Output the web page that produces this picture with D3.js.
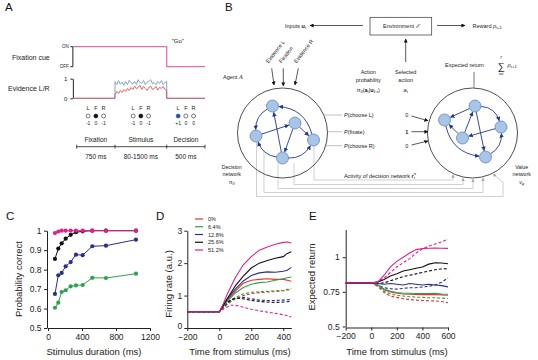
<!DOCTYPE html>
<html>
<head>
<meta charset="utf-8">
<script src="https://cdn.jsdelivr.net/npm/d3@7"></script>
<style>
  body { margin: 0; background: #fff; }
  svg { font-family: "Liberation Sans", Arial, sans-serif; }
</style>
</head>
<body>
<svg id="fig" width="538" height="360"></svg>
<script>
// ---------- data ----------
// panel A: evidence traces during the stimulus period
const evidenceL = [0.85, 0.7, 0.9, 0.72, 0.82, 0.66, 0.86, 0.7, 0.92, 0.8, 0.74, 0.86, 0.7, 0.95, 0.8, 0.76, 0.9, 0.7, 0.82, 0.86, 0.95, 0.74, 0.8, 0.7, 0.86, 0.76, 0.9, 0.7, 0.8, 0.86]
const evidenceR = [0.2, 0.35, 0.25, 0.4, 0.3, 0.45, 0.35, 0.5, 0.4, 0.55, 0.45, 0.62, 0.5, 0.55, 0.66, 0.45, 0.6, 0.5, 0.4, 0.56, 0.62, 0.45, 0.5, 0.6, 0.42, 0.56, 0.5, 0.6, 0.45, 0.4]

// panel C: psychometric curves vs stimulus duration
const durations = [82, 121, 161, 208, 267, 329, 408, 521, 682, 1035]
const pcGreen = [0.604, 0.630, 0.685, 0.694, 0.714, 0.719, 0.721, 0.758, 0.757, 0.779]
const pcNavy = [0.675, 0.771, 0.783, 0.817, 0.839, 0.877, 0.874, 0.920, 0.923, 0.954]
const pcBlack = [0.855, 0.908, 0.935, 0.959, 0.979, 0.992, 0.997, 1, 1, 1]
const pcMagenta = [0.988, 0.996, 1, 1, 1, 1, 1, 1, 1, 1]

// panel D: firing rate (solid = preferred, dashed = non-preferred)
const dTimes = [-200, -100, 0, 25, 50, 75, 100, 150, 200, 250, 300, 350, 400, 425, 450]
const frRed = [0.5, 0.5, 0.5, 0.68, 0.85, 1.0, 1.14, 1.38, 1.47, 1.5, 1.52, 1.5, 1.5, 1.47, 1.44]
const frGreen = [0.5, 0.5, 0.5, 0.66, 0.82, 0.95, 1.08, 1.25, 1.35, 1.4, 1.42, 1.47, 1.52, 1.55, 1.57]
const frNavy = [0.5, 0.5, 0.5, 0.7, 0.9, 1.05, 1.2, 1.45, 1.62, 1.7, 1.73, 1.72, 1.75, 1.78, 1.87]
const frBlack = [0.5, 0.5, 0.5, 0.7, 0.9, 1.1, 1.3, 1.6, 1.85, 2.0, 2.08, 2.15, 2.2, 2.3, 2.35]
const frMagenta = [0.5, 0.5, 0.5, 0.75, 1.05, 1.3, 1.55, 1.95, 2.2, 2.4, 2.5, 2.58, 2.64, 2.65, 2.62]
const frRedD = [0.5, 0.5, 0.5, 0.62, 0.73, 0.82, 0.9, 1.0, 1.06, 1.09, 1.11, 1.12, 1.15, 1.17, 1.19]
const frGreenD = [0.5, 0.5, 0.5, 0.62, 0.75, 0.85, 0.94, 1.05, 1.1, 1.12, 1.13, 1.15, 1.16, 1.19, 1.21]
const frNavyD = [0.5, 0.5, 0.5, 0.65, 0.78, 0.86, 0.9, 0.95, 0.9, 0.86, 0.85, 0.85, 0.86, 0.87, 0.88]
const frBlackD = [0.5, 0.5, 0.5, 0.65, 0.78, 0.88, 0.92, 0.9, 0.85, 0.82, 0.8, 0.79, 0.8, 0.81, 0.82]
const frMagentaD = [0.5, 0.5, 0.5, 0.58, 0.65, 0.7, 0.7, 0.64, 0.58, 0.53, 0.49, 0.45, 0.41, 0.38, 0.34]

// panel E: expected return
const eTimes = [-200, -100, 0, 50, 100, 150, 200, 250, 300, 350, 400, 450, 500, 550, 600]
const erRed = [0.815, 0.815, 0.815, 0.80, 0.765, 0.75, 0.74, 0.735, 0.733, 0.732, 0.73, 0.73, 0.73, 0.728, 0.725]
const erGreen = [0.815, 0.815, 0.815, 0.80, 0.77, 0.755, 0.745, 0.74, 0.74, 0.738, 0.738, 0.738, 0.739, 0.735, 0.733]
const erNavy = [0.815, 0.815, 0.815, 0.81, 0.805, 0.81, 0.805, 0.80, 0.81, 0.805, 0.80, 0.805, 0.80, 0.795, 0.786]
const erBlack = [0.815, 0.815, 0.815, 0.82, 0.84, 0.865, 0.88, 0.9, 0.91, 0.92, 0.93, 0.95, 0.96, 0.958, 0.953]
const erMagenta = [0.815, 0.815, 0.815, 0.82, 0.87, 0.93, 0.97, 1.0, 1.03, 1.055, 1.062, 1.065, 1.066, 1.065, 1.064]
const erRedD = [0.815, 0.815, 0.815, 0.79, 0.745, 0.72, 0.71, 0.70, 0.695, 0.69, 0.688, 0.686, 0.685, 0.68, 0.671]
const erGreenD = [0.815, 0.815, 0.815, 0.795, 0.755, 0.735, 0.725, 0.72, 0.715, 0.712, 0.71, 0.708, 0.707, 0.705, 0.702]
const erNavyD = [0.815, 0.815, 0.815, 0.80, 0.78, 0.772, 0.77, 0.775, 0.78, 0.78, 0.785, 0.79, 0.80, 0.82, 0.85]
const erBlackD = [0.815, 0.815, 0.815, 0.81, 0.815, 0.83, 0.845, 0.86, 0.87, 0.88, 0.89, 0.9, 0.91, 0.915, 0.917]
const erMagentaD = [0.815, 0.815, 0.815, 0.82, 0.85, 0.89, 0.93, 0.96, 0.99, 1.03, 1.06, 1.08, 1.095, 1.11, 1.13]

const coherences = ['0%', '6.4%', '12.8%', '25.6%', '51.2%']

// ---------- style ----------
const RED = '#e8322f', GREEN = '#2ca24b', NAVY = '#2b2f86', BLACK = '#111', MAGENTA = '#e0218a'
const cohColors = [RED, GREEN, NAVY, BLACK, MAGENTA]
const NODE_FILL = '#a8c5e8', NODE_STROKE = '#4d7bb8', EDGE = '#22378a'
const plain = d => String(+d.toFixed(2))   // 1 -> "1", 0.75 -> "0.75", 1200 -> "1200"

const svg = d3.select('#fig')

function txt(g, x, y, s, size, anchor = 'start', extra = {}) {
  const t = g.append('text').attr('x', x).attr('y', y)
    .attr('font-size', size).attr('text-anchor', anchor).attr('fill', extra.fill || '#222')
    .text(s)
  if (extra.weight) t.attr('font-weight', extra.weight)
  if (extra.style) t.attr('font-style', extra.style)
  return t
}

function styleAxis(g, size) {
  g.selectAll('path.domain').attr('stroke', '#222').attr('stroke-width', 1)
  g.selectAll('.tick line').attr('stroke', '#222')
  g.selectAll('.tick text').attr('font-size', size).attr('fill', '#222')
    .attr('font-family', '"Liberation Sans", Arial, sans-serif')
}

// panel letters
;[['A', 5, 11], ['B', 225, 11], ['C', 6, 220], ['D', 156, 220], ['E', 309, 220]].forEach(([l, x, y]) => {
  txt(svg, x, y, l, 11.5, 'start', { fill: '#111' })
})

// ---------- markers ----------
const defs = svg.append('defs')
function marker(id, color, size) {
  defs.append('marker').attr('id', id)
    .attr('viewBox', '0 0 10 10').attr('refX', 9).attr('refY', 5)
    .attr('markerWidth', size).attr('markerHeight', size)
    .attr('markerUnits', 'userSpaceOnUse').attr('orient', 'auto')
    .append('path').attr('d', 'M0,0 L10,5 L0,10 z').attr('fill', color)
}
marker('arNavy', EDGE, 4.5)
marker('arBlack', '#111', 4)
marker('arGray', '#aaa', 3.5)

// ================= PANEL A =================
const gA = svg.append('g')
const xA = d3.scaleLinear().domain([0, 1]).range([76.7, 115])   // phase units
const stimEnd = 2.35, trialEnd = 3.35
const fixY = d3.scaleOrdinal().domain(['ON', 'OFF']).range([46.7, 66.7])
const evY = d3.scaleLinear().domain([0, 1]).range([98.3, 78.7])
const axX = xA(-0.1)

txt(gA, 12, 59.5, 'Fixation cue', 7)
txt(gA, 8, 90.5, 'Evidence L/R', 7)

// fixation axis
gA.append('line').attr('x1', axX).attr('x2', axX).attr('y1', fixY('ON')).attr('y2', fixY('OFF')).attr('stroke', '#222')
;['ON', 'OFF'].forEach(k => {
  gA.append('line').attr('x1', axX - 2.5).attr('x2', axX).attr('y1', fixY(k)).attr('y2', fixY(k)).attr('stroke', '#222')
  txt(gA, axX - 4, fixY(k) + 1.7, k, 4.5, 'end')
})
gA.append('path')
  .attr('d', d3.line()([[axX, fixY('ON')], [xA(stimEnd), fixY('ON')], [xA(stimEnd), fixY('OFF')], [xA(trialEnd), fixY('OFF')]]))
  .attr('fill', 'none').attr('stroke', '#e06fb5').attr('stroke-width', 1.3)
txt(gA, xA(stimEnd) + 5, 43, '"Go"', 6)

// evidence axis
const evAxis = gA.append('g').attr('transform', `translate(${axX},0)`)
  .call(d3.axisLeft(evY).tickValues([0, 1]).tickFormat(plain).tickSize(2.5).tickSizeOuter(0).tickPadding(3))
styleAxis(evAxis, 6)

function evidencePath(vals) {
  const xs = d3.scaleLinear().domain([0, vals.length - 1]).range([xA(1), xA(stimEnd)])
  const pts = [[axX, evY(0)], [xA(1), evY(0)]]
  vals.forEach((v, i) => pts.push([xs(i), evY(v)]))
  pts.push([xA(stimEnd), evY(0)], [xA(trialEnd), evY(0)])
  return d3.line()(pts)
}
gA.append('path').attr('d', evidencePath(evidenceL)).attr('fill', 'none').attr('stroke', '#6f9cc4').attr('stroke-width', 0.9)
gA.append('path').attr('d', evidencePath(evidenceR)).attr('fill', 'none').attr('stroke', '#d8524e').attr('stroke-width', 0.9)

// action outputs per phase
const phases = [
  { name: 'Fixation', dur: '750 ms', c: 0.5, fill: [null, '#111', null], val: ['-1', '0', '-1'] },
  { name: 'Stimulus', dur: '80-1500 ms', c: 1.675, fill: [null, '#111', null], val: ['-1', '0', '-1'] },
  { name: 'Decision', dur: '500 ms', c: 2.85, fill: ['#1f4fa8', null, null], val: ['+1', '0', '0'] }
]
phases.forEach(p => {
  const cx = xA(p.c)
  ;['L', 'F', 'R'].forEach((l, i) => {
    const x = cx + (i - 1) * 7.7
    txt(gA, x, 110.3, l, 5.5, 'middle')
    gA.append('circle').attr('cx', x).attr('cy', 116).attr('r', 2)
      .attr('fill', p.fill[i] || '#fff').attr('stroke', p.fill[i] || '#222').attr('stroke-width', 0.6)
    txt(gA, x, 124.5, p.val[i], 5, 'middle')
  })
  txt(gA, cx, 141.5, p.name, 6.5, 'middle')
  txt(gA, cx, 158.5, p.dur, 6.5, 'middle')
})
gA.append('line').attr('x1', xA(0)).attr('x2', xA(trialEnd)).attr('y1', 146.7).attr('y2', 146.7).attr('stroke', '#222').attr('stroke-width', 0.8)
;[0, 1, stimEnd, trialEnd].forEach(v => {
  gA.append('line').attr('x1', xA(v)).attr('x2', xA(v)).attr('y1', 144.7).attr('y2', 148.7).attr('stroke', '#222').attr('stroke-width', 0.8)
})

// ================= PANEL B =================
const gB = svg.append('g')
const leftC = { x: 282.5, y: 133, r: 45 }
const rightC = { x: 472.5, y: 133, r: 45 }
const leftNodes = [[-10, -27], [12.5, -10], [-26.5, 3], [31, 7], [0, 25]]
const leftEdges = [[0, 2, 0.3], [4, 0, 0], [3, 0, 0.35], [2, 1, 0], [1, 3, 0], [1, 4, 0], [4, 2, -0.3], [4, 3, 0.3]]
const rightNodes = [[2.5, -27], [-28, -13], [28.5, -6], [-10, 5], [13, 24]]
const rightEdges = [[0, 1, 0], [0, 2, -0.35], [3, 0, 0], [0, 4, 0], [3, 1, 0], [2, 3, 0], [1, 4, 0.35], [4, 2, 0.3]]
const NR = 6

function drawNet(c, nodes, edges) {
  gB.append('circle').attr('cx', c.x).attr('cy', c.y).attr('r', c.r)
    .attr('fill', 'none').attr('stroke', '#222').attr('stroke-width', 0.8)
  const P = nodes.map(([dx, dy]) => [c.x + dx, c.y + dy])
  edges.forEach(([a, b, bend]) => {
    const s = P[a], t = P[b]
    const dx = t[0] - s[0], dy = t[1] - s[1]
    const ctl = [(s[0] + t[0]) / 2 - dy * bend, (s[1] + t[1]) / 2 + dx * bend]
    const u1 = [ctl[0] - s[0], ctl[1] - s[1]], l1 = Math.hypot(...u1)
    const u2 = [ctl[0] - t[0], ctl[1] - t[1]], l2 = Math.hypot(...u2)
    const st = [s[0] + u1[0] / l1 * NR, s[1] + u1[1] / l1 * NR]
    const en = [t[0] + u2[0] / l2 * (NR + 0.5), t[1] + u2[1] / l2 * (NR + 0.5)]
    const path = d3.path()
    path.moveTo(...st)
    path.quadraticCurveTo(ctl[0], ctl[1], en[0], en[1])
    gB.append('path').attr('d', path.toString()).attr('fill', 'none')
      .attr('stroke', EDGE).attr('stroke-width', 0.9).attr('marker-end', 'url(#arNavy)')
  })
  P.forEach(p => gB.append('circle').attr('cx', p[0]).attr('cy', p[1]).attr('r', NR)
    .attr('fill', NODE_FILL).attr('stroke', NODE_STROKE).attr('stroke-width', 0.7))
}

// gray wiring from decision network to value network
const wires = [
  { x0: 314, y0: 146, yb: 180, x1: 453 },
  { x0: 294, y0: 163, yb: 184.5, x1: 463 },
  { x0: 278, y0: 163, yb: 188.5, x1: 473 },
  { x0: 264, y0: 150, yb: 192.5, x1: 483 },
  { x0: 256.5, y0: 142, yb: 196.5, x1: 503, x2: 493 }
]
wires.forEach(w => {
  const ex = w.x2 || w.x1
  const ey = rightC.y + Math.sqrt(rightC.r ** 2 - (ex - rightC.x) ** 2) + 1
  const pts = [[w.x0, w.y0], [w.x0, w.yb], [w.x1, w.yb]]
  if (w.x2) pts.push([w.x1, ey + 8], [w.x2, ey])
  else pts.push([w.x1, ey])
  gB.append('path').attr('d', d3.line()(pts)).attr('fill', 'none')
    .attr('stroke', '#bbb').attr('stroke-width', 0.7).attr('marker-end', 'url(#arGray)')
})

drawNet(leftC, leftNodes, leftEdges)
drawNet(rightC, rightNodes, rightEdges)

// environment box and arrows
gB.append('rect').attr('x', 370).attr('y', 17.3).attr('width', 61.7).attr('height', 17.7)
  .attr('fill', '#fff').attr('stroke', '#333').attr('stroke-width', 0.7)
const envT = txt(gB, 400.8, 28.3, 'Environment ', 5.5, 'middle')
envT.append('tspan').attr('font-style', 'italic').text('ℰ')
function arrow(x1, y1, x2, y2) {
  gB.append('line').attr('x1', x1).attr('y1', y1).attr('x2', x2).attr('y2', y2)
    .attr('stroke', '#111').attr('stroke-width', 0.7).attr('marker-end', 'url(#arBlack)')
}
arrow(363, 25.5, 310, 25.5)
arrow(437, 25.5, 465, 25.5)
arrow(405.7, 62, 405.7, 39)
const inT = txt(gB, 306, 27.5, 'Inputs ', 5.5, 'end')
inT.append('tspan').attr('font-weight', 'bold').text('u')
inT.append('tspan').attr('font-size', 4).attr('dy', 1.2).text('t')
const rwT = txt(gB, 472.5, 27.5, 'Reward ', 5.5)
rwT.append('tspan').attr('font-style', 'italic').text('ρ')
rwT.append('tspan').attr('font-size', 4).attr('dy', 1.2).text('t+1')

// inputs to the agent
const inputs = [['Evidence L', 268.5, 63.5, 271.7, 68.3, 274, 85], ['Fixation', 281.5, 63.5, 283.3, 68.3, 283.3, 86], ['Evidence R', 296.5, 63.5, 298.3, 68.3, 295, 85]]
inputs.forEach(([s, tx, ty, ax1, ay1, ax2, ay2]) => {
  txt(gB, tx, ty, s, 5.5).attr('transform', `rotate(-52 ${tx} ${ty})`)
  arrow(ax1, ay1, ax2, ay2)
})
const agT = txt(gB, 223, 78.5, 'Agent ', 5.5)
agT.append('tspan').attr('font-style', 'italic').attr('font-family', '"DejaVu Serif", serif').text('A')

// action probability & selected action
txt(gB, 368.3, 73.8, 'Action', 5.5, 'middle')
txt(gB, 368.3, 82.3, 'probability', 5.5, 'middle')
const apT = txt(gB, 368.3, 91.8, '', 5.5, 'middle')
apT.append('tspan').attr('font-style', 'italic').text('π')
apT.append('tspan').attr('font-size', 4).attr('dy', 1.2).attr('font-style', 'italic').text('θ')
apT.append('tspan').attr('dy', -1.2).text('(')
apT.append('tspan').attr('font-weight', 'bold').text('a')
apT.append('tspan').attr('font-size', 4).attr('dy', 1.2).text('t')
apT.append('tspan').attr('dy', -1.2).text('|')
apT.append('tspan').attr('font-weight', 'bold').text('u')
apT.append('tspan').attr('font-size', 4).attr('dy', 1.2).text('1:t')
apT.append('tspan').attr('dy', -1.2).text(')')
txt(gB, 405.7, 73.8, 'Selected', 5.5, 'middle')
txt(gB, 405.7, 82.3, 'action', 5.5, 'middle')
const saT = txt(gB, 405.7, 91.8, '', 5.5, 'middle')
saT.append('tspan').attr('font-style', 'italic').text('a')
saT.append('tspan').attr('font-size', 4).attr('dy', 1.2).text('t')

// expected return
txt(gB, 445, 67, 'Expected return', 5.5)
txt(gB, 501, 69.5, '∑', 10, 'middle')
txt(gB, 501, 58.5, 'T', 3.8, 'middle', { style: 'italic' })
txt(gB, 501, 74.5, 'τ=t', 3.8, 'middle', { style: 'italic' })
const erT = txt(gB, 507.5, 67, '', 5.5)
erT.append('tspan').attr('font-style', 'italic').text('ρ')
erT.append('tspan').attr('font-size', 4).attr('dy', 1.2).text('τ+1')
gB.append('line').attr('x1', 474).attr('x2', 474).attr('y1', 72).attr('y2', 88).attr('stroke', '#444').attr('stroke-width', 0.7)

// policy outputs
const outs = [['choose L', 115, '0', 116, 120.7], ['fixate', 131.7, '1', 131.7, 131.7], ['choose R', 145.7, '0', 145, 141]]
outs.forEach(([lab, y, v, ay1, ay2]) => {
  const ex = leftC.x + Math.sqrt(leftC.r ** 2 - (y - leftC.y) ** 2)
  gB.append('line').attr('x1', ex).attr('x2', 342).attr('y1', y).attr('y2', y).attr('stroke', '#999').attr('stroke-width', 0.6)
  const t = txt(gB, 344, y + 2, '', 5.5)
  t.append('tspan').attr('font-style', 'italic').text('P')
  t.append('tspan').text('(' + lab + ')')
  txt(gB, 406.7, y + 2, v, 5.5, 'middle', v === '1' ? { weight: 'bold' } : {})
  arrow(411.5, ay1, 428, ay2)
})

// network labels
;['Decision', 'network'].forEach((s, i) => txt(gB, 231.7, 168.5 + i * 7.5, s, 5.2, 'middle'))
const pnT = txt(gB, 231.7, 183.5, '', 5.2, 'middle')
pnT.append('tspan').attr('font-style', 'italic').text('π')
pnT.append('tspan').attr('font-size', 3.8).attr('dy', 1).attr('font-style', 'italic').text('θ')
;['Value', 'network'].forEach((s, i) => txt(gB, 521.7, 168.5 + i * 7.5, s, 5.2, 'middle'))
const vnT = txt(gB, 521.7, 183.5, '', 5.2, 'middle')
vnT.append('tspan').attr('font-style', 'italic').text('v')
vnT.append('tspan').attr('font-size', 3.8).attr('dy', 1).attr('font-style', 'italic').text('φ')
const adT = txt(gB, 380, 177.5, 'Activity of decision network ', 5.5, 'middle')
adT.append('tspan').attr('font-weight', 'bold').text('r')
adT.append('tspan').attr('font-size', 3.8).attr('dy', -2.5).attr('font-style', 'italic').text('π')
adT.append('tspan').attr('font-size', 3.8).attr('dx', -2.2).attr('dy', 4).attr('font-style', 'italic').text('t')

// ================= PANEL C =================
const gC = svg.append('g')
const xC = d3.scaleLinear().domain([0, 1200]).range([48, 150])
const yC = d3.scaleLinear().domain([0.5, 1]).range([328, 230.7])
const axCx = gC.append('g').attr('transform', 'translate(0,328)')
  .call(d3.axisBottom(xC).tickValues([0, 400, 800, 1200]).tickFormat(plain).tickSize(3).tickSizeOuter(0).tickPadding(2.5))
styleAxis(axCx, 8.5)
const axCy = gC.append('g').attr('transform', 'translate(47,0)')
  .call(d3.axisLeft(yC).tickValues([0.5, 0.6, 0.7, 0.8, 0.9, 1]).tickFormat(plain).tickSize(3).tickSizeOuter(0).tickPadding(2.5))
styleAxis(axCy, 8.5)
txt(gC, 94, 355, 'Stimulus duration (ms)', 9.5, 'middle')
txt(gC, 0, 0, 'Probability correct', 9.5, 'middle').attr('transform', 'translate(21.5,279) rotate(-90)')
;[[pcGreen, GREEN], [pcNavy, NAVY], [pcBlack, BLACK], [pcMagenta, MAGENTA]].forEach(([vals, col]) => {
  const pts = durations.map((d, i) => [xC(d), yC(vals[i])])
  gC.append('path').attr('d', d3.line()(pts)).attr('fill', 'none').attr('stroke', col).attr('stroke-width', 1)
  gC.selectAll(null).data(pts).enter().append('circle')
    .attr('cx', d => d[0]).attr('cy', d => d[1]).attr('r', 2.1).attr('fill', col)
})

// ================= PANEL D =================
const gD = svg.append('g')
const xD = d3.scaleLinear().domain([-200, 450]).range([187.3, 291.3])
const yD = d3.scaleLinear().domain([0, 3]).range([328, 230.7])
const axDx = gD.append('g').attr('transform', 'translate(0,328)')
  .call(d3.axisBottom(xD).tickValues([-200, 0, 200, 400]).tickSize(3).tickSizeOuter(0).tickPadding(3))
styleAxis(axDx, 8.5)
const axDy = gD.append('g').attr('transform', 'translate(187.3,0)')
  .call(d3.axisLeft(yD).tickValues([0, 1, 2, 3]).tickFormat(plain).tickSize(3).tickSizeOuter(0).tickPadding(2))
styleAxis(axDy, 8.5)
// lift the lowest y label a touch so it clears the "−200" below it
axDy.selectAll('.tick text').filter(d => d === 0).attr('dy', '0.1em')
txt(gD, 240, 355, 'Time from stimulus (ms)', 9.5, 'middle')
txt(gD, 0, 0, 'Firing rate (a.u.)', 9.5, 'middle').attr('transform', 'translate(172,284) rotate(-90)')
const lineD = d3.line().x((d, i) => xD(dTimes[i])).y(d => yD(d))
const dDashed = [frRedD, frGreenD, frNavyD, frBlackD, frMagentaD]
const dSolid = [frRed, frGreen, frNavy, frBlack, frMagenta]
dDashed.forEach((vals, i) => gD.append('path').attr('d', lineD(vals)).attr('fill', 'none')
  .attr('stroke', cohColors[i]).attr('stroke-width', 1.1).attr('stroke-dasharray', '3,2'))
dSolid.forEach((vals, i) => gD.append('path').attr('d', lineD(vals)).attr('fill', 'none')
  .attr('stroke', cohColors[i]).attr('stroke-width', 1.1))
coherences.forEach((c, i) => {
  const y = 219 + i * 7.75
  gD.append('line').attr('x1', 195).attr('x2', 203).attr('y1', y).attr('y2', y).attr('stroke', cohColors[i]).attr('stroke-width', 1.2)
  txt(gD, 208, y + 2, c, 5.5)
})

// ================= PANEL E =================
const gE = svg.append('g')
const xE = d3.scaleLinear().domain([-200, 600]).range([345.7, 448])
const yE = d3.scaleLinear().domain([0.5, 1.2]).range([326.5, 229.5])
const axEx = gE.append('g').attr('transform', 'translate(0,327.5)')
  .call(d3.axisBottom(xE).tickValues([-200, 0, 200, 400, 600]).tickSize(3).tickSizeOuter(0).tickPadding(2.5))
styleAxis(axEx, 8.5)
const axEy = gE.append('g').attr('transform', 'translate(345.7,0)')
  .call(d3.axisLeft(yE).tickValues([0.5, 0.75, 1]).tickFormat(plain).tickSize(3).tickSizeOuter(0).tickPadding(3))
styleAxis(axEy, 8.5)
txt(gE, 397, 355, 'Time from stimulus (ms)', 9.5, 'middle')
txt(gE, 0, 0, 'Expected return', 9.5, 'middle').attr('transform', 'translate(314.5,277) rotate(-90)')
const lineE = d3.line().x((d, i) => xE(eTimes[i])).y(d => yE(d))
const eDashed = [erRedD, erGreenD, erNavyD, erBlackD, erMagentaD]
const eSolid = [erRed, erGreen, erNavy, erBlack, erMagenta]
eDashed.forEach((vals, i) => gE.append('path').attr('d', lineE(vals)).attr('fill', 'none')
  .attr('stroke', cohColors[i]).attr('stroke-width', 1.1).attr('stroke-dasharray', '3,2'))
eSolid.forEach((vals, i) => gE.append('path').attr('d', lineE(vals)).attr('fill', 'none')
  .attr('stroke', cohColors[i]).attr('stroke-width', 1.1))
</script>
</body>
</html>
